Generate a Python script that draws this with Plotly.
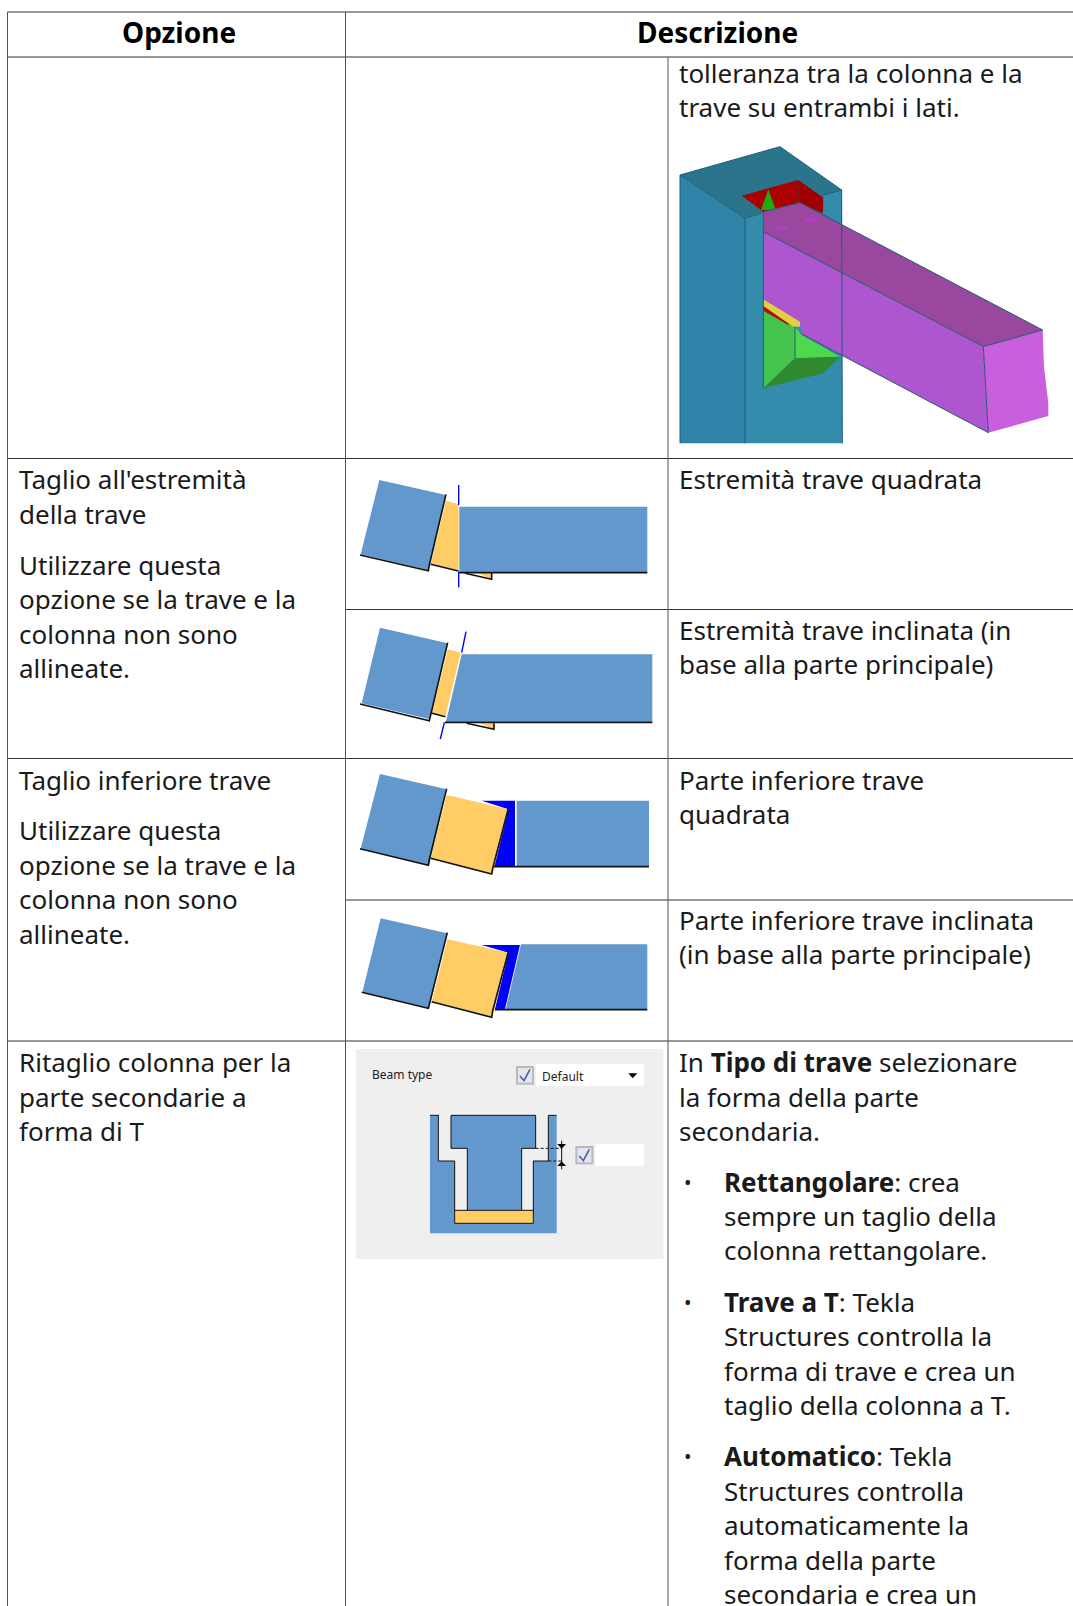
import plotly.graph_objects as go

W, H = 1073, 1606
FONT = "Noto Sans"
SIZE = 26

# ---------- table text: (x, y-centre, text) ----------
header_labels = [(179, 32, "Opzione"), (717, 32, "Descrizione")]
col_a_x, col_c_x, bullet_text_x, bullet_x = 18, 678, 723, 683
col_a_lines = [
    (479, "Taglio all'estremità"), (514, "della trave"), (565, "Utilizzare questa"),
    (599, "opzione se la trave e la"), (634, "colonna non sono"), (668, "allineate."),
    (780, "Taglio inferiore trave"), (830, "Utilizzare questa"),
    (865, "opzione se la trave e la"), (899, "colonna non sono"), (934, "allineate."),
    (1062, "Ritaglio colonna per la"), (1097, "parte secondarie a"), (1131, "forma di T"),
]
col_c_lines = [
    (73, "tolleranza tra la colonna e la"), (107, "trave su entrambi i lati."),
    (479, "Estremità trave quadrata"),
    (630, "Estremità trave inclinata (in"), (664, "base alla parte principale)"),
    (780, "Parte inferiore trave"), (814, "quadrata"),
    (920, "Parte inferiore trave inclinata"), (954, "(in base alla parte principale)"),
    (1062, "In <b>Tipo di trave</b> selezionare"), (1097, "la forma della parte"),
    (1131, "secondaria."),
]
bullet_lines = [
    (1182, "<b>Rettangolare</b>: crea"), (1216, "sempre un taglio della"), (1250, "colonna rettangolare."),
    (1302, "<b>Trave a T</b>: Tekla"), (1336, "Structures controlla la"),
    (1371, "forma di trave e crea un"), (1405, "taglio della colonna a T."),
    (1456, "<b>Automatico</b>: Tekla"), (1491, "Structures controlla"),
    (1525, "automaticamente la"), (1560, "forma della parte"), (1594, "secondaria e crea un"),
]
bullet_rows = [1182, 1302, 1456]

# ---------- table rules ----------
rules_h = [(7.5, 1073, 12), (7.5, 1073, 57), (7.5, 1073, 458.5), (345.5, 1073, 609.5),
           (7.5, 1073, 758.5), (345.5, 1073, 900), (7.5, 1073, 1041)]
rules_v = [(7.5, 12, 1606), (345.5, 12, 1606), (668, 57, 1606)]

# ---------- diagram outlines, as read from the 3x crops ----------
# 3D connection picture, crop origin (660,130)
iso = [
    ([(60,135),(255,265),(255,940),(60,940)], "#2E84A8"),
    ([(255,265),(545,180),(547,940),(255,940)], "#338CAB"),
    ([(60,135),(360,50),(545,180),(495,195),(490,250),(305,250),(255,265)], "#2B758C"),
    ([(245,197),(415,150),(415,220),(310,245)], "#AA0000"),
    ([(415,150),(490,203),(488,250),(415,218)], "#9E0000"),
    ([(325,178),(347,240),(303,240)], "#22AA11"),
    ([(490,195),(545,180),(545,280),(490,250)], "#338CAB"),
    ([(310,245),(420,218),(1148,600),(970,650),(310,305)], "#9A47A0"),
    ([(310,305),(970,650),(985,908),(425,612),(422,585),(310,505)], "#AE55D0"),
    ([(970,650),(1148,600),(1152,710),(1165,820),(1165,858),(990,908),(985,908)], "#C95FDD"),
    ([(310,540),(405,590),(405,685),(310,775)], "#44C44C"),
    ([(405,590),(425,615),(540,680),(405,685)], "#4ED84E"),
    ([(405,685),(540,680),(490,730),(310,775)], "#2F8A30"),
    ([(310,525),(390,578),(385,585),(310,542)], "#AA1010"),
    ([(310,508),(420,575),(420,590),(400,590),(310,528)], "#E0D040"),
    ([(345,292),(385,288),(380,300),(352,302)], "#B040C0"),
    ([(433,266),(475,264),(468,277),(440,279)], "#B040C0"),
]
iso_edges = [
    [(60,940),(60,135),(360,50),(545,180),(547,940)],
    [(60,135),(255,265),(255,940)],
    [(255,265),(305,250)],
    [(490,195),(545,180)],
    [(310,305),(970,650),(1148,600)],
    [(970,650),(985,908)],
    [(310,245),(310,775)],
    [(405,590),(405,685)],
    [(425,612),(985,908)],
    [(310,245),(420,218),(1148,600)],
]

STEEL, PLATE, CUT = "#6398CC", "#FFCC66", "#0000FF"

# end-cut diagrams, crop origin (340,460)
cut_a_fill = [
    ([(118,60),(318,105),(265,330),(62,283)], STEEL),
    ([(318,122),(356,132),(356,332),(272,313)], PLATE),
    ([(358,140),(922,140),(922,336),(358,336)], STEEL),
    ([(415,340),(455,340),(455,358)], PLATE),
]
cut_a_black = [[(60,285),(265,332),(268,315),(318,103)], [(272,313),(355,333)],
               [(355,338),(922,338)], [(375,340),(455,358),(455,338)]]
cut_a_blue = [[(356,75),(356,135)], [(356,335),(356,382)]]
cut_b_fill = [
    ([(120,503),(323,550),(270,778),(65,730)], STEEL),
    ([(323,568),(362,578),(316,770),(276,760)], PLATE),
    ([(365,583),(937,583),(937,785),(318,785)], STEEL),
    ([(420,790),(462,790),(462,808)], PLATE),
]
cut_b_black = [[(60,732),(268,782),(272,765),(323,548)], [(276,760),(316,770)],
               [(315,787),(937,787)], [(380,790),(462,808),(462,790)]]
cut_b_blue = [[(378,515),(365,578)], [(313,787),(301,837)]]

# bottom-cut diagrams, crop origin (340,760)
cut_c_fill = [
    ([(120,42),(320,88),(268,315),(62,266)], STEEL),
    ([(425,122),(525,122),(525,320),(462,320),(505,148)], CUT),
    ([(320,105),(505,148),(458,342),(272,295)], PLATE),
    ([(530,122),(927,122),(927,320),(530,320)], STEEL),
]
cut_c_black = [[(60,266),(265,316),(268,298),(320,86)],
               [(272,295),(455,342),(458,325),(505,145)], [(462,320),(927,320)]]
cut_d_fill = [
    ([(122,475),(322,520),(268,743),(67,697)], STEEL),
    ([(425,555),(540,555),(495,747),(465,747),(505,578)], CUT),
    ([(322,538),(505,578),(458,770),(275,725)], PLATE),
    ([(543,553),(922,553),(922,748),(497,748)], STEEL),
]
cut_d_black = [[(65,697),(265,745),(270,725),(322,518)],
               [(275,725),(455,772),(458,752),(505,575)], [(465,749),(922,749)]]

# dialog picture, crop origin (350,1040)
dlg_fill = [
    ([(18,27),(940,27),(940,657),(18,657)], "#EFEFEF"),
    ([(240,226),(265,226),(265,363),(314,363),(314,550),(550,550),(550,363),(595,363),
      (595,226),(620,226),(620,580),(240,580)], STEEL),
    ([(303,226),(557,226),(557,325),(515,325),(515,510),(352,510),(352,325),(303,325)], STEEL),
    ([(314,511),(550,511),(550,550),(314,550)], PLATE),
    ([(498,78),(552,78),(552,134),(498,134)], "#B9B9B9"),
    ([(504,84),(546,84),(546,128),(504,128)], "#E3E6EE"),
    ([(558,72),(882,72),(882,138),(558,138)], "#FFFFFF"),
    ([(835,100),(862,100),(848,115)], "#000000"),
    ([(676,318),(730,318),(730,373),(676,373)], "#B9B9B9"),
    ([(682,324),(724,324),(724,367),(682,367)], "#E3E6EE"),
    ([(736,312),(882,312),(882,378),(736,378)], "#FFFFFF"),
    ([(622,312),(648,312),(635,326)], "#000000"),
    ([(622,378),(648,378),(635,364)], "#000000"),
]
dlg_black = [
    [(265,226),(265,363),(314,363),(314,550),(550,550),(550,363),(595,363),(595,226)],
    [(303,226),(303,325),(352,325),(352,510)],
    [(303,226),(557,226),(557,325),(515,325),(515,510)],
    [(314,511),(550,511)],
    [(635,302),(635,388)],
    [(267,226),(240,226)], [(595,226),(620,226)],
]
dlg_dash = [[(557,325),(635,325)], [(595,363),(635,363)]]
dlg_check = [[(510,108),(522,122),(540,88)], [(688,348),(700,362),(718,328)]]
dlg_labels = [(64, 104, "Beam type"), (573, 110, "Default")]

# ---------- drawing ----------
fig = go.Figure()


def to_page(pts, origin):
    ox, oy = origin
    return [ox + p[0] / 3 for p in pts], [oy + p[1] / 3 for p in pts]


def poly(pts, origin, color):
    x, y = to_page(pts + pts[:1], origin)
    fig.add_trace(go.Scatter(x=x, y=y, mode="lines", fill="toself", fillcolor=color,
                             line=dict(width=0, color=color), hoverinfo="skip"))


def path(x, y, color, width=1.0, dash=None):
    fig.add_trace(go.Scatter(x=x, y=y, mode="lines", hoverinfo="skip",
                             line=dict(width=width, color=color, dash=dash)))


def crop_path(pts, origin, color, width=1.0, dash=None):
    x, y = to_page(pts, origin)
    path(x, y, color, width, dash)


for pts, c in iso:
    poly(pts, (660, 130), c)
for pts in iso_edges:
    crop_path(pts, (660, 130), "#1F5F75", 1.0)

for fills, blacks, blues, org in [
    (cut_a_fill, cut_a_black, cut_a_blue, (340, 460)),
    (cut_b_fill, cut_b_black, cut_b_blue, (340, 460)),
    (cut_c_fill, cut_c_black, [], (340, 760)),
    (cut_d_fill, cut_d_black, [], (340, 760)),
]:
    for pts, c in fills:
        poly(pts, org, c)
    for pts in blacks:
        crop_path(pts, org, "#111111", 1.6)
    for pts in blues:
        crop_path(pts, org, CUT, 1.4)

for pts, c in dlg_fill:
    poly(pts, (350, 1040), c)
for pts in dlg_black:
    crop_path(pts, (350, 1040), "#111111", 1.0)
for pts in dlg_dash:
    crop_path(pts, (350, 1040), "#111111", 1.0, "3px,2px")
for pts in dlg_check:
    crop_path(pts, (350, 1040), "#4A5FA0", 1.6)

for x0, x1, y in rules_h:
    path([x0, x1], [y, y], "#333333", 1)
for x, y0, y1 in rules_v:
    path([x, x], [y0, y1], "#555555", 1)

ann = []


def text(x, y, s, size=SIZE, anchor="left", color="#1a1a1a"):
    ann.append(dict(x=x, y=y, text=s, showarrow=False, xanchor=anchor, yanchor="middle",
                    borderpad=0, font=dict(family=FONT, size=size, color=color),
                    xref="x", yref="y"))


for x, y, s in header_labels:
    text(x, y, f"<b>{s}</b>", 28, "center", "#000000")
for y, s in col_a_lines:
    text(col_a_x, y, s)
for y, s in col_c_lines:
    text(col_c_x, y, s)
for y, s in bullet_lines:
    text(bullet_text_x, y, s)
for y in bullet_rows:
    text(bullet_x, y, "•", 20)
for zx, zy, s in dlg_labels:
    text(350 + zx / 3, 1040 + zy / 3, s, 12, "left", "#222222")

fig.update_layout(
    width=W, height=H, margin=dict(l=0, r=0, t=0, b=0), showlegend=False,
    paper_bgcolor="white", plot_bgcolor="white", annotations=ann,
    xaxis=dict(range=[0, W], visible=False, fixedrange=True),
    yaxis=dict(range=[H, 0], visible=False, fixedrange=True),
)
fig.write_html("out.html", post_script="document.body.style.margin='0';document.body.style.overflow='hidden';",
               config={"displayModeBar": False})
